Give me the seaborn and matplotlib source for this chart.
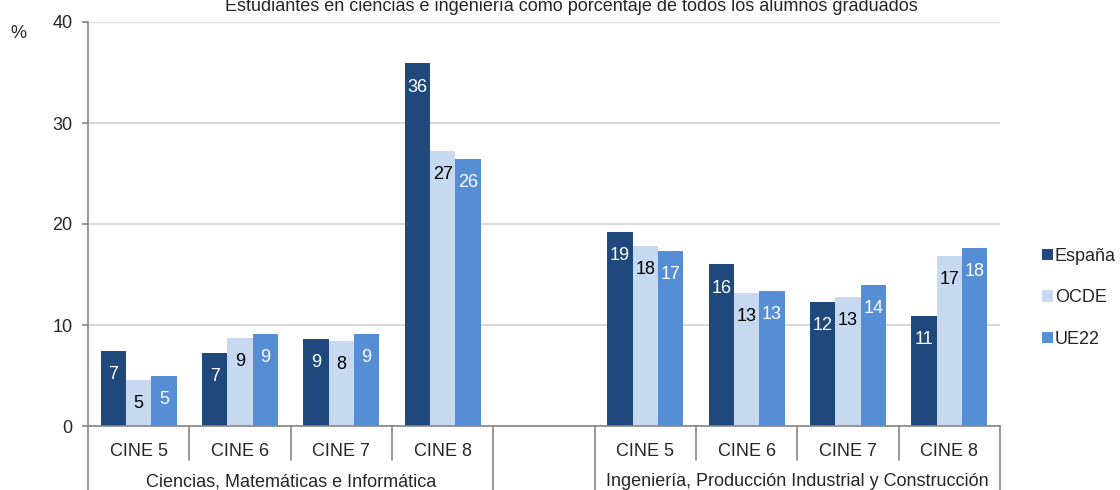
import pandas as pd
import matplotlib.pyplot as plt
import matplotlib.transforms as mtransforms
from matplotlib.patches import Patch
import seaborn as sns

# Data
series = ['España', 'OCDE', 'UE22']
niveles = ['CINE 5', 'CINE 6', 'CINE 7', 'CINE 8']
grupos = ['Ciencias, Matemáticas e Informática',
          'Ingeniería, Producción Industrial y Construcción']

ciencias_espana = [7.4, 7.2, 8.6, 35.9]
ciencias_ocde = [4.6, 8.7, 8.4, 27.2]
ciencias_ue22 = [5.0, 9.1, 9.1, 26.4]

ingenieria_espana = [19.2, 16.0, 12.3, 10.9]
ingenieria_ocde = [17.8, 13.2, 12.8, 16.8]
ingenieria_ue22 = [17.3, 13.4, 14.0, 17.6]

titulo = 'Estudiantes en ciencias e ingeniería como porcentaje de todos los alumnos graduados'

colores = {'España': '#1F497D', 'OCDE': '#C6D9F1', 'UE22': '#558ED5'}
color_texto = {'España': 'white', 'OCDE': 'black', 'UE22': 'white'}

# build long table; a blank slot sits between the two groups
claves_c = ['C|' + n for n in niveles]
claves_i = ['I|' + n for n in niveles]
orden = claves_c + ['hueco'] + claves_i

filas = []
for clave, e, o, u in zip(claves_c, ciencias_espana, ciencias_ocde, ciencias_ue22):
    filas += [(clave, 'España', e), (clave, 'OCDE', o), (clave, 'UE22', u)]
for clave, e, o, u in zip(claves_i, ingenieria_espana, ingenieria_ocde, ingenieria_ue22):
    filas += [(clave, 'España', e), (clave, 'OCDE', o), (clave, 'UE22', u)]
df = pd.DataFrame(filas, columns=['cat', 'serie', 'valor'])

sns.set_style('white')
plt.rcParams['font.family'] = ['Liberation Sans', 'DejaVu Sans']
FS = 13

fig = plt.figure(figsize=(11.2, 4.9), dpi=100)
ax = fig.add_axes([88 / 1120, 1 - 426 / 490, 912 / 1120, 404 / 490])

sns.barplot(data=df, x='cat', y='valor', hue='serie', order=orden, hue_order=series,
            palette=colores, width=0.75, saturation=1, gap=0, legend=False,
            edgecolor='none', ax=ax)

# value labels inside the top of each bar
for serie, cont in zip(series, ax.containers):
    for barra in cont:
        h = barra.get_height()
        if h != h:
            continue
        ax.annotate(f'{h:.0f}', (barra.get_x() + barra.get_width() / 2, h),
                    xytext=(0, -17), textcoords='offset points',
                    ha='center', va='center', fontsize=FS, color=color_texto[serie])

ax.set_xlim(-0.5, 8.5)
ax.set_ylim(0, 40)
ax.set_yticks([0, 10, 20, 30, 40])
ax.yaxis.grid(True, color='#D9D9D9', linewidth=1.5)
ax.set_axisbelow(True)
ax.tick_params(axis='y', length=4, width=1.2, color='#868686', labelsize=FS, pad=7, left=True)
ax.set_xticks(range(9))
ax.set_xticklabels(niveles + [''] + niveles, fontsize=FS)
ax.tick_params(axis='x', length=0, pad=12)
ax.set_xlabel('')
ax.set_ylabel('')

for lado in ['top', 'right']:
    ax.spines[lado].set_visible(False)
for lado in ['left', 'bottom']:
    ax.spines[lado].set_color('#868686')
    ax.spines[lado].set_linewidth(1.2)

# category separators below the axis
trans = mtransforms.blended_transform_factory(ax.transData, ax.transAxes)
for x in [0.5, 1.5, 2.5, 5.5, 6.5, 7.5]:
    ax.plot([x, x], [0, -0.084], transform=trans, color='#868686', lw=1.2, clip_on=False)
for x in [-0.5, 3.5, 4.5, 8.5]:
    ax.plot([x, x], [0, -0.17], transform=trans, color='#868686', lw=1.2, clip_on=False)

ax.text(1.5, -0.138, grupos[0], transform=trans, ha='center', va='center', fontsize=FS)
ax.text(6.5, -0.138, grupos[1], transform=trans, ha='center', va='center', fontsize=FS)

fig.text(18 / 1120, 1 - 33 / 490, '%', ha='center', va='center', fontsize=FS)
fig.text(571 / 1120, 1 - 11 / 490, titulo, ha='center', va='baseline', fontsize=FS)

manijas = [Patch(facecolor=colores[s], edgecolor='none') for s in series]
fig.legend(manijas, series, loc='center left', bbox_to_anchor=(1042 / 1120, 1 - 298 / 490),
           frameon=False, fontsize=FS, handlelength=0.6, handleheight=0.6,
           handletextpad=0.1, labelspacing=1.35, borderaxespad=0, borderpad=0)

fig.savefig('out.png', dpi=100)
